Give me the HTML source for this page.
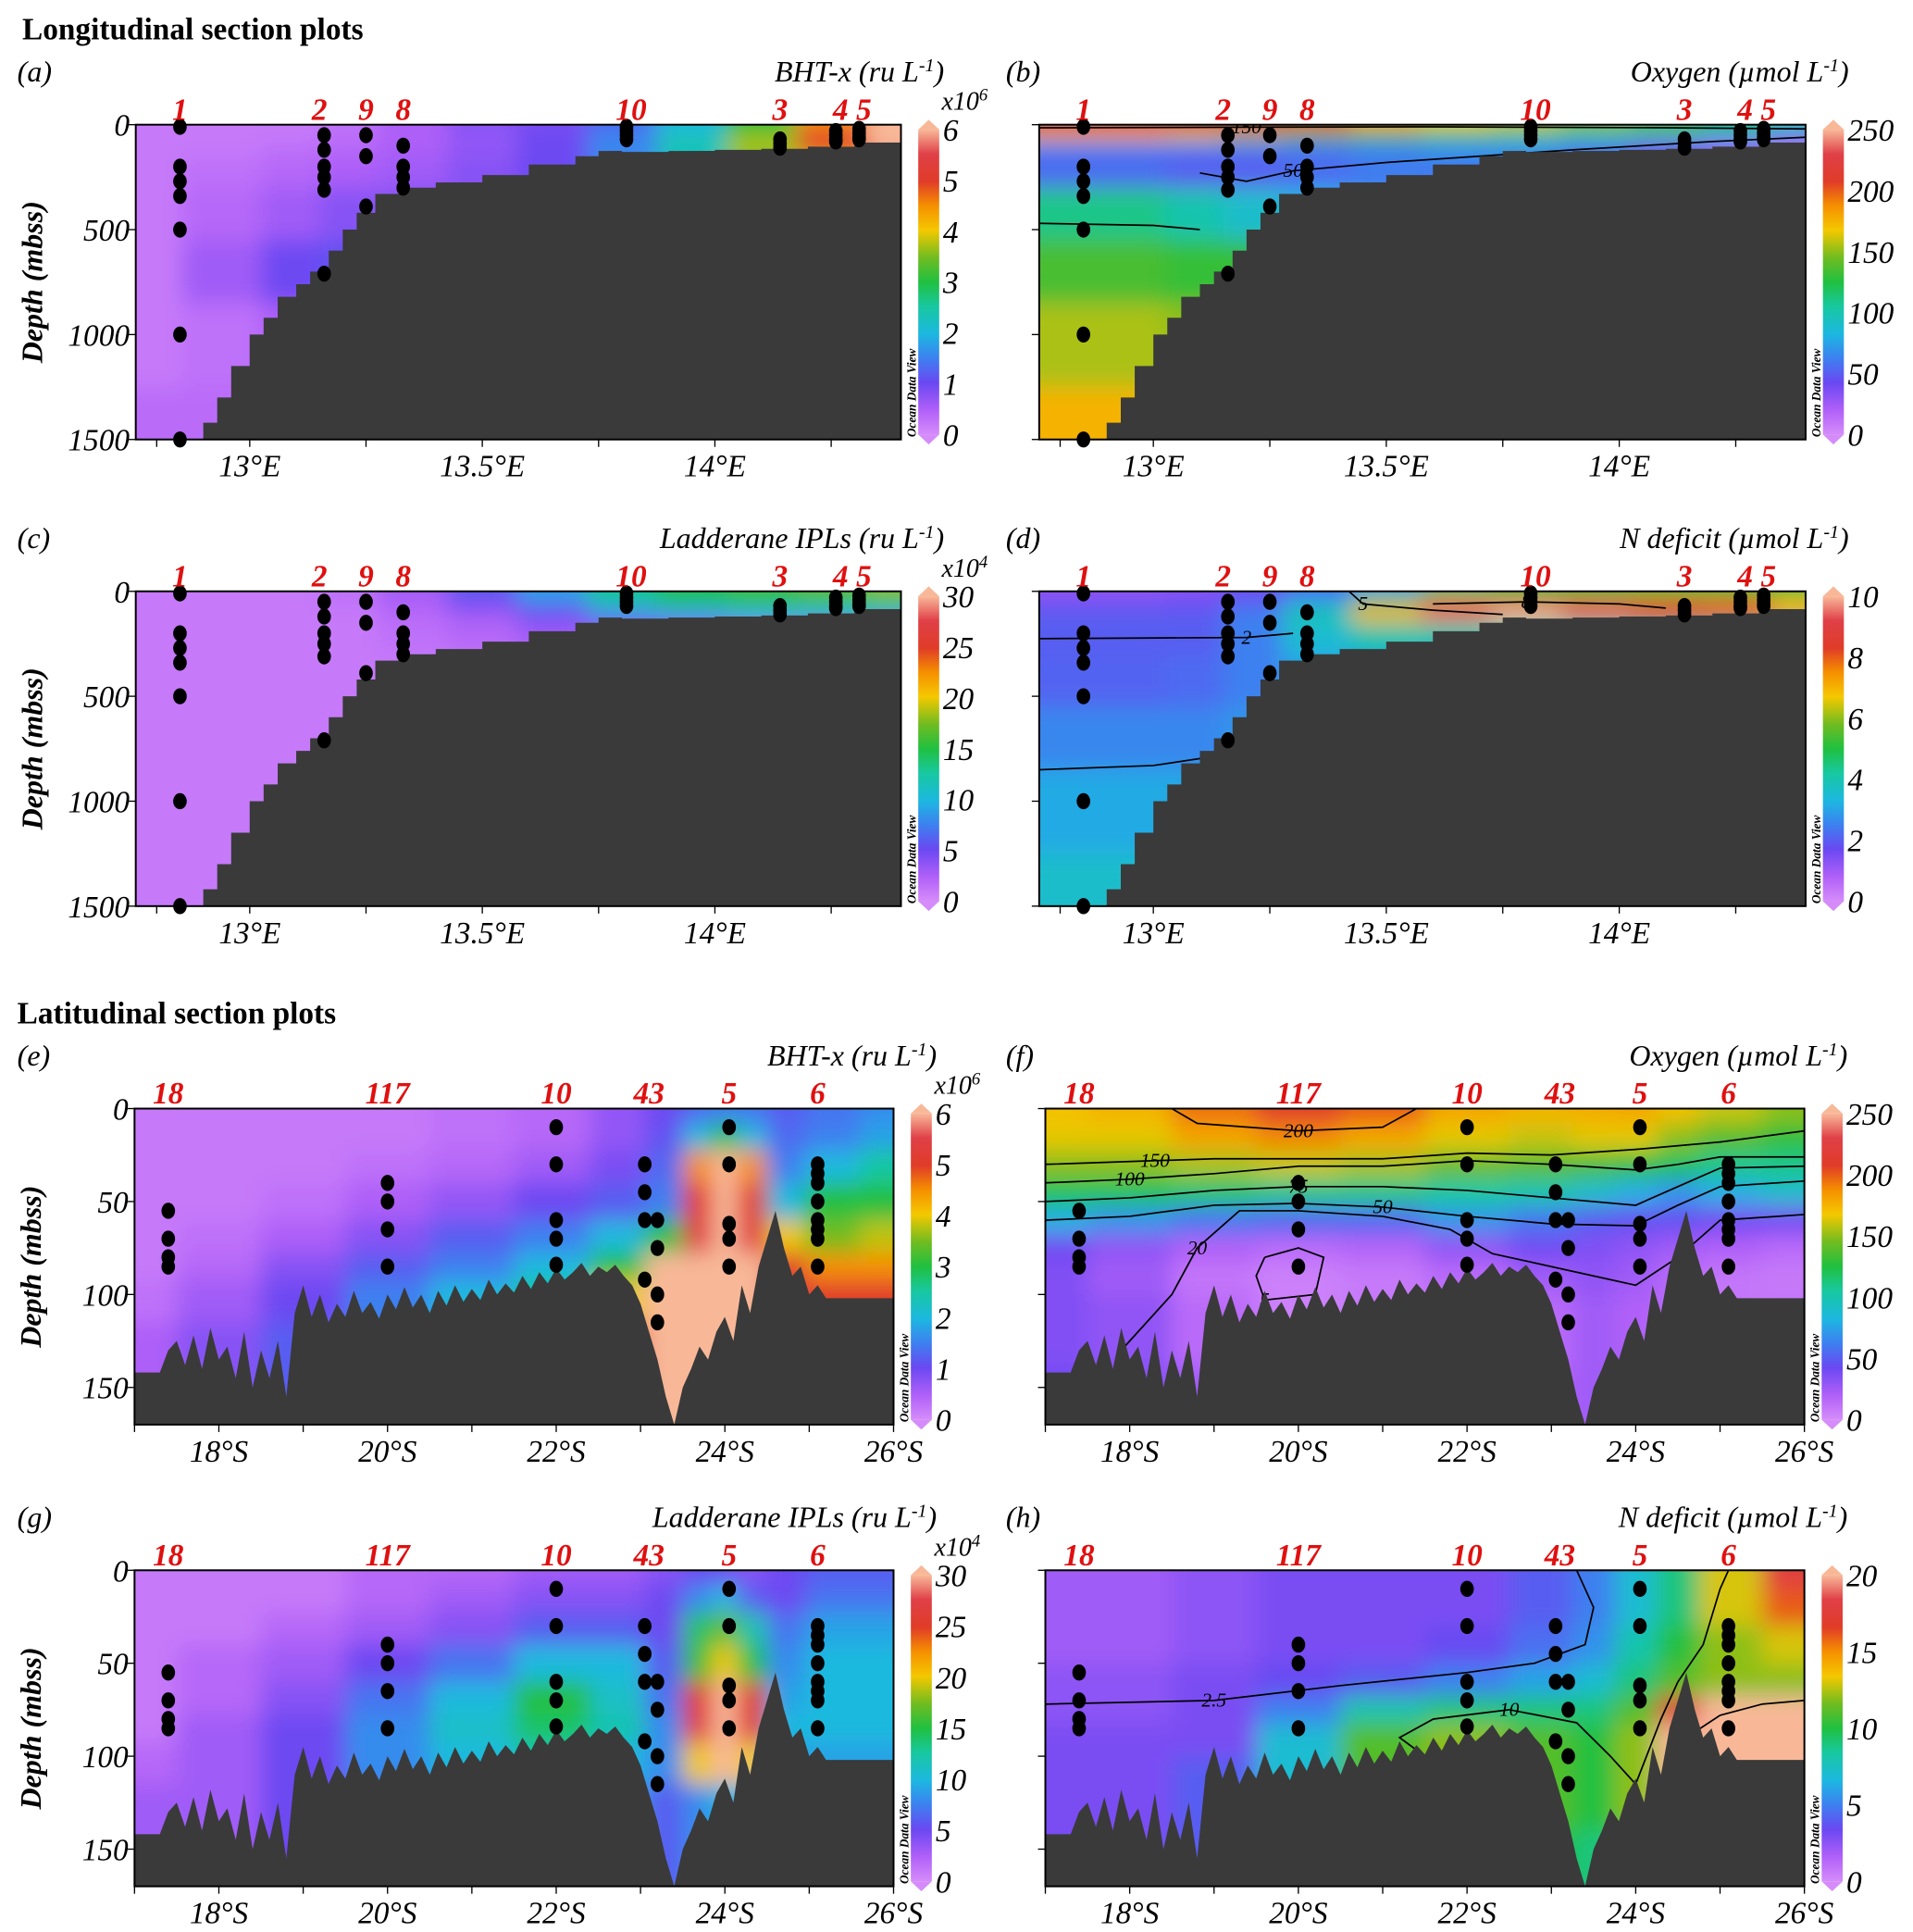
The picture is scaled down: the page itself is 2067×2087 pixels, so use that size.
<!DOCTYPE html>
<html><head><meta charset="utf-8">
<style>
html,body{margin:0;padding:0;background:#fff;}
svg{display:block;}
text{font-family:"Liberation Serif",serif;}
</style></head>
<body>
<svg id="fig" width="2067" height="2087" viewBox="0 0 1550 1565" preserveAspectRatio="none" xmlns="http://www.w3.org/2000/svg">
<defs>
<filter id="blur" x="-10%" y="-10%" width="120%" height="120%"><feGaussianBlur stdDeviation="9"/></filter>
<linearGradient id="cbar" x1="0" y1="1" x2="0" y2="0">
<stop offset="0" stop-color="#d58cfa"/><stop offset="0.08" stop-color="#b060f8"/><stop offset="0.17" stop-color="#6a48f2"/><stop offset="0.25" stop-color="#3d80f0"/><stop offset="0.33" stop-color="#1cb8e0"/><stop offset="0.42" stop-color="#18c8a0"/><stop offset="0.5" stop-color="#20c040"/><stop offset="0.58" stop-color="#70bc20"/><stop offset="0.67" stop-color="#f5c800"/><stop offset="0.75" stop-color="#f59000"/><stop offset="0.83" stop-color="#e03c28"/><stop offset="0.92" stop-color="#e04048"/><stop offset="1" stop-color="#f8b898"/>
</linearGradient>
</defs>
<text x="18" y="32" font-size="25" font-weight="bold">Longitudinal section plots</text>
<text x="14" y="829" font-size="25" font-weight="bold">Latitudinal section plots</text>
</svg>
<script>
// ---------- shared data ----------
const lonCols = [12.755,12.95,13.1,13.2,13.35,13.5,13.65,13.8,13.95,14.1,14.25,14.40];
const lonDepths = [0,50,100,200,400,700,1000,1500];
const latCols14 = [17,18,19,20,21,22,22.8,23.3,23.7,24.0,24.3,24.7,25.2,26];
const latDepthsE = [0,15,30,50,70,85,100,130,170];
const latCols12 = [17,18,19,20,21,22,23,23.5,24,24.5,25,26];
const latDepthsF = [0,15,30,45,60,75,90,110,170];
const latDepthsH = [0,20,40,60,75,90,110,170];

const gridA = [
[0.2,0.2,0.2,0.3,0.5,0.8,0.9,1.3,2.0,3.0,4.5,6.5],
[0.2,0.2,0.2,0.3,0.5,0.7,1.0,1.5,2.2,3.5,5,6.5],
[0.2,0.2,0.3,0.4,0.5,0.7,1.0,1.6,2.5,3.8,5,6],
[0.2,0.3,0.4,0.5,0.6,0.8,1,1.5,2,3,4,5],
[0.2,0.4,0.6,0.8,0.8,0.8,1,1,1,1,1,1],
[0.2,0.6,1.0,1.1,1,1,1,1,1,1,1,1],
[0.2,0.3,0.5,0.6,0.6,0.6,0.6,0.6,0.6,0.6,0.6,0.6],
[0.35,0.35,0.4,0.4,0.4,0.4,0.4,0.4,0.4,0.4,0.4,0.4]];
const gridB = [
[225,225,220,215,200,180,165,160,150,140,120,100],
[175,175,165,155,140,130,115,110,105,100,80,60],
[60,60,60,60,60,65,70,70,60,40,30,20],
[55,55,50,50,55,60,60,60,50,40,30,20],
[110,110,100,90,80,70,60,50,40,30,20,20],
[135,135,130,130,130,130,130,130,130,130,130,130],
[155,155,150,150,150,150,150,150,150,150,150,150],
[175,175,175,175,175,175,175,175,175,175,175,175]];
const gridC = [
[1,1,1,1.5,3,6,9,13,15,16,17,18],
[1,1,1,1.5,2.5,5,8,12,14,15,15,16],
[1,1,1,1,2,3,5,8,9,10,10,10],
[1,1,1,1,1.5,2,3,4,4,4,4,4],
[1,1,1,1,1,1,1,1,1,1,1,1],
[1,1,1,1,1,1,1,1,1,1,1,1],
[1,1,1,1,1,1,1,1,1,1,1,1],
[1,1,1,1,1,1,1,1,1,1,1,1]];
const gridD = [
[1.2,1.2,1.3,1.6,2.2,3,4.5,5,5,5,5,5],
[1.5,1.5,1.6,2,3,6,8,9,8.5,8,8,7],
[2,2,2,2.5,4,7,9.5,10.5,9.5,8.5,8,7],
[2,2,2,2.5,3.5,4,4,4,4,4,4,4],
[2.1,2.1,2.2,2.5,3,3,3,3,3,3,3,3],
[2.6,2.6,2.6,2.8,3,3,3,3,3,3,3,3],
[3.1,3.1,3.1,3.1,3.1,3.1,3.1,3.1,3.1,3.1,3.1,3.1],
[3.6,3.6,3.6,3.6,3.6,3.6,3.6,3.6,3.6,3.6,3.6,3.6]];
const gridE = [
[0.2,0.2,0.2,0.2,0.3,0.4,0.7,1.0,1.3,1.5,1.4,1.2,1.4,1.6],
[0.2,0.2,0.2,0.2,0.3,0.4,0.7,1.1,2.0,3.0,2.0,1.3,1.5,1.8],
[0.2,0.2,0.2,0.3,0.4,0.6,0.9,1.3,4.5,7,4.5,1.5,2,2.5],
[0.2,0.2,0.3,0.5,0.7,1.0,1.2,1.5,5,7,5,2,3,3],
[0.2,0.3,0.5,0.8,1.2,1.5,2,3,5.5,7,5.5,4,3.5,3.8],
[0.2,0.4,0.8,1.2,1.5,2,3,6,7,7,7,5,4.5,4.5],
[0.3,0.6,1,1.5,2,2.5,4,7,7,7,7,5.5,5,5],
[0.5,0.8,1.2,1.5,2,3,5,7,7,7,7,5.5,5,5],
[0.5,0.8,1.2,1.5,2,3,5,7,7,7,7,5.5,5,5]];
const gridF = [
[170,175,195,210,200,180,175,178,180,170,160,150],
[165,165,180,190,180,165,160,165,165,150,140,130],
[150,150,155,160,155,145,140,135,130,120,110,110],
[120,120,115,110,110,105,100,90,80,70,80,90],
[80,70,60,55,55,70,60,50,45,45,40,40],
[40,30,20,15,18,30,40,35,30,25,20,15],
[35,25,10,5,8,15,25,30,25,15,10,8],
[35,30,15,5,8,10,15,25,20,15,10,10],
[40,35,25,15,15,15,20,25,25,25,25,25]];
const gridG = [
[1,1,1,2,2,3,3,4,5,5,4,5,6,6],
[1,1,1,2,3,4,4,5,8,10,6,5,7,7],
[1,1,2,3,4,6,6,5,14,17,12,7,9,9],
[1,2,3,5,7,10,10,6,16,20,15,8,10,10],
[1,2,4,7,10,15,11,7,25,32,25,9,10,10],
[1,3,5,8,11,14,12,8,27,33,26,10,10,10],
[2,3,5,8,10,12,10,8,20,32,20,9,9,9],
[3,3,5,7,8,10,9,6,8,10,9,9,9,9],
[3,3,5,7,8,10,9,6,8,10,9,9,9,9]];
const gridH = [
[2,2,2.5,3,3,3,4,5,7,9,13,18],
[2,2,2.5,3,3,3,4,5,7,9,13,16],
[2,2,2.5,3,3,3.5,4.5,5.5,8,10,12,13],
[2.5,2.5,3,3.5,4,5,6,7,9,11,12,12],
[2.5,2.5,3,5,8,9,9,9,11,18,22,22],
[3,3,3,7,11,12,11,10,12,22,25,25],
[3,3,4,7,11,12,11,10,12,22,25,25],
[3,3,4,7,10,10,10,9,9,12,20,20]];

// bathymetry
const lonBathy = [12.755,12.88,12.9,12.93,12.96,13.0,13.03,13.06,13.1,13.13,13.17,13.2,13.23,13.27,13.32,13.4,13.5,13.6,13.7,13.75,13.8,13.9,14.0,14.1,14.2,14.3,14.40];
const depBathy = [1500,1500,1420,1300,1150,1000,920,820,760,700,600,500,420,330,300,275,240,190,150,125,130,125,120,115,105,85,60];
const latBathyDepth = [142,142,142,142,130,125,138,122,140,118,135,128,145,120,150,130,145,125,155,110,95,112,100,115,105,112,98,110,104,113,100,108,96,107,100,110,98,106,95,104,97,103,92,100,94,99,90,97,88,94,86,92,88,83,90,85,88,84,90,95,105,120,135,155,170,150,140,128,135,120,112,125,95,110,85,70,55,75,90,85,100,95,102,102,102,102,102,102,102,102,102];

// stations
const lonStLabels = ["1","2","9","8","10","3","4","5"];
const lonStPos = [12.85,13.15,13.25,13.33,13.82,14.14,14.27,14.32];
const lonDotLon = [12.85,12.85,12.85,12.85,12.85,12.85,12.85,13.16,13.16,13.16,13.16,13.16,13.16,13.25,13.25,13.25,13.33,13.33,13.33,13.33,13.81,13.81,13.81,13.81,14.14,14.14,14.14,14.26,14.26,14.26,14.26,14.31,14.31,14.31,14.31];
const lonDotDep = [10,200,270,340,500,1000,1500,50,120,200,250,310,710,50,150,390,100,200,250,300,10,30,50,70,70,90,110,30,50,70,80,20,40,60,70];
const latStLabels = ["18","117","10","43","5","6"];
const latStPos = [17.4,20.0,22.0,23.1,24.05,25.1];
const latDotLat = [17.4,17.4,17.4,17.4,20,20,20,20,22,22,22,22,22,23.05,23.05,23.05,23.05,23.2,23.2,23.2,23.2,24.05,24.05,24.05,24.05,24.05,25.1,25.1,25.1,25.1,25.1,25.1,25.1,25.1];
const latDotDep = [55,70,80,85,40,50,65,85,10,30,60,70,84,30,45,60,92,60,75,100,115,10,30,62,70,85,30,35,40,50,60,65,70,85];

// contours (lat/lon, depth)
const contF150 = [[17,30],[18.3,28],[19,27],[21,27],[22,24],[23,25],[24,22],[25,18],[26,12]];
const contF100 = [[17,40],[18,38],[19,35],[20,31],[21,31],[22,28],[23,30],[24,33],[24.5,30],[25,26],[26,26]];
const contF75 = [[17,50],[18,48],[19,44],[20,42],[21,42],[22,44],[23,48],[24,52],[24.5,42],[25,32],[26,31]];
const contF50 = [[17,60],[18,58],[19,52],[20,51],[21,53],[22,58],[23,62],[24,63],[24.5,52],[25,42],[26,39]];
const contF20 = [[17.9,130],[18.5,100],[18.8,75],[19.3,55],[20,55],[21,58],[21.8,65],[22.3,78],[23,85],[24,95],[24.5,80],[25,60],[26,57]];
const contF5 = [[19.6,80],[20,75],[20.3,80],[20.2,100],[19.6,103],[19.5,90],[19.6,80]];
const contF200 = [[18.5,0],[18.8,8],[20,12],[21,10],[21.4,0]];
const contH5 = [[17,72],[19,70],[20.5,62],[22,55],[22.8,50],[23.4,40],[23.5,20],[23.3,0]];
const contH10 = [[21.5,100],[21.2,90],[21.6,80],[22.5,75],[23.3,82],[23.7,100],[24,115],[24.3,80],[24.5,60],[24.8,40],[25.0,10],[25.1,0]];
const contH15 = [[24.5,105],[24.6,90],[25,78],[25.5,72],[26,70]];
const contB150 = [[12.755,15],[13.2,12],[13.6,10],[14.1,15],[14.40,20]];
const contB50 = [[13.1,230],[13.2,270],[13.3,220],[13.5,180],[13.9,120],[14.2,80],[14.4,60]];
const contB1 = [[12.755,470],[13.0,480],[13.1,500]];
const contD2 = [[12.755,225],[13.2,220],[13.3,200]];
const contD5 = [[13.42,0],[13.45,60],[13.6,90],[13.75,110]];
const contD8 = [[13.6,60],[13.8,50],[14.0,60],[14.1,80]];
const contD3 = [[12.755,850],[13.0,830],[13.15,780]];

// ---------- drawing ----------
const NS = "http://www.w3.org/2000/svg";
const svg = document.getElementById('fig');
const stops = [[0,[213,140,250]],[0.08,[176,96,248]],[0.17,[106,72,242]],[0.25,[61,128,240]],[0.33,[28,184,224]],[0.42,[24,200,160]],[0.5,[32,192,64]],[0.58,[112,188,32]],[0.67,[245,200,0]],[0.75,[245,144,0]],[0.83,[224,60,40]],[0.92,[224,64,72]],[1,[248,184,152]]];
function cmap(t){t=Math.max(0,Math.min(1,t));for(let i=1;i<stops.length;i++){if(t<=stops[i][0]){const a=stops[i-1],b=stops[i],f=(t-a[0])/(b[0]-a[0]);const c=a[1].map((v,k)=>Math.round(v+(b[1][k]-v)*f));return `rgb(${c[0]},${c[1]},${c[2]})`;}}return 'rgb(248,184,152)';}
function el(tag,attrs,parent){const e=document.createElementNS(NS,tag);for(const k in attrs)e.setAttribute(k,attrs[k]);(parent||svg).appendChild(e);return e;}
let clipId=0;
function panel(p){
  const sx=v=>p.x0+(v-p.xmin)/(p.xmax-p.xmin)*(p.x1-p.x0);
  const sy=d=>p.y0+d/p.dmax*(p.y1-p.y0);
  const g=el('g',{});
  
  
  const cid='clip'+(clipId++);
  const cp=el('clipPath',{id:cid},g);el('rect',{x:p.x0,y:p.y0,width:p.x1-p.x0,height:p.y1-p.y0},cp);
  const clipG=el('g',{'clip-path':`url(#${cid})`},g);
  const field=el('g',{filter:'url(#blur)'},clipG);
  
  
  const xs=p.cols.map(sx), ys=p.depths.map(sy);
  for(let r=0;r<p.depths.length;r++){
    const top=r===0?p.y0-40:(ys[r-1]+ys[r])/2, bot=r===p.depths.length-1?p.y1+40:(ys[r]+ys[r+1])/2;
    for(let c=0;c<p.cols.length;c++){
      const lft=c===0?p.x0-40:(xs[c-1]+xs[c])/2, rgt=c===p.cols.length-1?p.x1+40:(xs[c]+xs[c+1])/2;
      const cell=el('rect',{x:lft,y:top,width:rgt-lft+0.5,height:bot-top+0.5,fill:cmap(p.grid[r][c]/p.vmax)},field);
      
      
    }
  }
  (p.contours||[]).forEach(ct=>{
    const pts=ct.pts.map(q=>sx(q[0]).toFixed(1)+','+sy(q[1]).toFixed(1)).join(' ');
    const pl=el('polyline',{points:pts,fill:'none',stroke:'#000','stroke-width':1.3},clipG);
    
    
    if(ct.label){const q=ct.pts[ct.li||1];const t=el('text',{x:sx(q[0]),y:sy(q[1])+5,'font-size':16,'font-style':'italic','text-anchor':'middle'},clipG);t.textContent=ct.label;}
  });
  let d=`M${p.x0-5},${p.y1+5}`;
  if(p.step){for(let i=0;i<p.bx.length;i++){const X=sx(p.bx[i]),Y=sy(p.bd[i]);d+=` L${X.toFixed(1)},${i===0?Y:sy(p.bd[i-1])} L${X.toFixed(1)},${Y.toFixed(1)}`;}}
  else{for(let i=0;i<p.bd.length;i++){d+=` L${sx(p.bx[i]).toFixed(1)},${sy(p.bd[i]).toFixed(1)}`;}}
  d+=` L${p.x1+5},${sy(p.bd[p.bd.length-1])} L${p.x1+5},${p.y1+5} Z`;
  const bath=el('path',{d:d,fill:'#3a3a3a'},clipG);
  
  
  for(let i=0;i<p.dx.length;i++){const c=el('ellipse',{cx:sx(p.dx[i]),cy:sy(p.dd[i]),rx:5.5,ry:6.5,fill:'#000'},g);}
  const fr=el('rect',{x:p.x0,y:p.y0,width:p.x1-p.x0,height:p.y1-p.y0,fill:'none',stroke:'#000','stroke-width':1.5},g);
  
  for(let i=0;i<p.stl.length;i++){const t=el('text',{x:sx(p.stp[i]),y:p.y0-4,'font-size':25,'font-weight':'bold','font-style':'italic',fill:'#e01010','text-anchor':'middle'},g);t.textContent=p.stl[i];}
  p.xticks.forEach((v,i)=>{const X=sx(v);el('line',{x1:X,x2:X,y1:p.y1,y2:p.y1+6,stroke:'#000','stroke-width':1},g);
    if(p.xlab[i]){const t=el('text',{x:X,y:p.y1+30,'font-size':25,'font-style':'italic','text-anchor':'middle'},g);t.textContent=p.xlab[i];}});
  p.yticks.forEach(v=>{const Y=sy(v);el('line',{x1:p.x0-6,x2:p.x0,y1:Y,y2:Y,stroke:'#000','stroke-width':1},g);
    if(p.ylab){const t=el('text',{x:p.x0-5,y:Y+9,'font-size':25,'font-style':'italic','text-anchor':'end'},g);t.textContent=v;}});
  if(p.ylab){const t=el('text',{x:0,y:0,'font-size':24,'font-weight':'bold','font-style':'italic','text-anchor':'middle',transform:`translate(${p.x0-76},${(p.y0+p.y1)/2}) rotate(-90)`},g);t.textContent='Depth (mbss)';}
  const pl=el('text',{x:p.lx,y:p.y0-35,'font-size':24,'font-style':'italic'},g);pl.textContent=p.letter;
  const tt=el('text',{x:p.x1+35,y:p.y0-35,'font-size':24,'font-style':'italic','text-anchor':'end'},g);
  
  tt.appendChild(document.createTextNode(p.title+' ('+p.unit+' L'));
  const sup=el('tspan',{'baseline-shift':'super','font-size':15},tt);sup.textContent='-1';
  tt.appendChild(document.createTextNode(')'));
  const cx=p.x1+14, cw=17;
  const cb=el('g',{},g);
  el('rect',{x:cx,y:p.y0+4,width:cw,height:p.y1-p.y0-8,fill:'url(#cbar)'},cb);
  el('polygon',{points:`${cx},${p.y0+4} ${cx+cw/2},${p.y0-4} ${cx+cw},${p.y0+4}`,fill:'#f8b898'},cb);
  el('polygon',{points:`${cx},${p.y1-4} ${cx+cw/2},${p.y1+4} ${cx+cw},${p.y1-4}`,fill:'#d58cfa'},cb);
  p.cticks.forEach(v=>{const Y=p.y1-4-(v/p.vmax)*(p.y1-p.y0-8);const t=el('text',{x:cx+cw+3,y:Y+9,'font-size':25,'font-style':'italic'},cb);t.textContent=v;});
  const odv=el('text',{x:0,y:0,'font-size':10,'font-weight':'bold','font-style':'italic','text-anchor':'start',transform:`translate(${cx-2},${p.y1-2}) rotate(-90)`},cb);odv.textContent='Ocean Data View';
  if(p.mult){const m=el('text',{x:cx+cw+2,y:p.y0-12,'font-size':21,'font-style':'italic'},cb);m.textContent='x10';const s=el('tspan',{'baseline-shift':'super','font-size':14},m);s.textContent=p.mult;}
}
const lonTicks=[12.8,13,13.25,13.5,13.75,14,14.25];
const lonTickLab=["","13°E","","13.5°E","","14°E",""];
const latTicks=[17,18,19,20,21,22,23,24,25,26];
const latTickLab=["","18°S","","20°S","","22°S","","24°S","","26°S"];
const lonBase={xmin:12.755,xmax:14.40,dmax:1500,cols:lonCols,depths:lonDepths,bx:lonBathy,bd:depBathy,step:true,dx:lonDotLon,dd:lonDotDep,stl:lonStLabels,stp:lonStPos,xticks:lonTicks,xlab:lonTickLab,yticks:[0,500,1000,1500]};
const latBx=latBathyDepth.map((v,i)=>17+i*0.1);
const latBase={xmin:17,xmax:26,dmax:170,bx:latBx,bd:latBathyDepth,step:false,dx:latDotLat,dd:latDotDep,stl:latStLabels,stp:latStPos,xticks:latTicks,xlab:latTickLab,yticks:[0,50,100,150]};

panel(Object.assign({},lonBase,{name:'panel-a',letter:'(a)',lx:14,x0:110,x1:730,y0:101,y1:356,grid:gridA,vmax:6,title:'BHT-x',unit:'ru',cticks:[0,1,2,3,4,5,6],mult:'6',ylab:true}));
panel(Object.assign({},lonBase,{name:'panel-b',letter:'(b)',lx:815,x0:842,x1:1463,y0:101,y1:356,grid:gridB,vmax:250,title:'Oxygen',unit:'µmol',cticks:[0,50,100,150,200,250],ylab:false,
 contours:[{pts:contB150,label:'150',li:1},{pts:contB50,label:'50',li:2},{pts:contB1,label:''}]}));
panel(Object.assign({},lonBase,{name:'panel-c',letter:'(c)',lx:14,x0:110,x1:730,y0:479,y1:734,grid:gridC,vmax:30,title:'Ladderane IPLs',unit:'ru',cticks:[0,5,10,15,20,25,30],mult:'4',ylab:true}));
panel(Object.assign({},lonBase,{name:'panel-d',letter:'(d)',lx:815,x0:842,x1:1463,y0:479,y1:734,grid:gridD,vmax:10,title:'N deficit',unit:'µmol',cticks:[0,2,4,6,8,10],ylab:false,
 contours:[{pts:contD2,label:'2',li:1},{pts:contD5,label:'5',li:1},{pts:contD8,label:'8',li:1},{pts:contD3,label:''}]}));
panel(Object.assign({},latBase,{name:'panel-e',letter:'(e)',lx:14,x0:109,x1:724,y0:898,y1:1154,cols:latCols14,depths:latDepthsE,grid:gridE,vmax:6,title:'BHT-x',unit:'ru',cticks:[0,1,2,3,4,5,6],mult:'6',ylab:true}));
panel(Object.assign({},latBase,{name:'panel-f',letter:'(f)',lx:815,x0:847,x1:1462,y0:898,y1:1154,cols:latCols12,depths:latDepthsF,grid:gridF,vmax:250,title:'Oxygen',unit:'µmol',cticks:[0,50,100,150,200,250],ylab:false,
 contours:[{pts:contF150,label:'150',li:1},{pts:contF100,label:'100',li:0},{pts:contF75,label:'75',li:3},{pts:contF50,label:'50',li:4},{pts:contF20,label:'20',li:2},{pts:contF5,label:'5',li:4},{pts:contF200,label:'200',li:2}]}));
panel(Object.assign({},latBase,{name:'panel-g',letter:'(g)',lx:14,x0:109,x1:724,y0:1272,y1:1528,cols:latCols14,depths:latDepthsE,grid:gridG,vmax:30,title:'Ladderane IPLs',unit:'ru',cticks:[0,5,10,15,20,25,30],mult:'4',ylab:true}));
panel(Object.assign({},latBase,{name:'panel-h',letter:'(h)',lx:815,x0:847,x1:1462,y0:1272,y1:1528,cols:latCols12,depths:latDepthsH,grid:gridH,vmax:20,title:'N deficit',unit:'µmol',cticks:[0,5,10,15,20],ylab:false,
 contours:[{pts:contH5,label:'2.5',li:0},{pts:contH10,label:'10',li:3},{pts:contH15,label:'15',li:1}]}));
</script>
</body></html>
